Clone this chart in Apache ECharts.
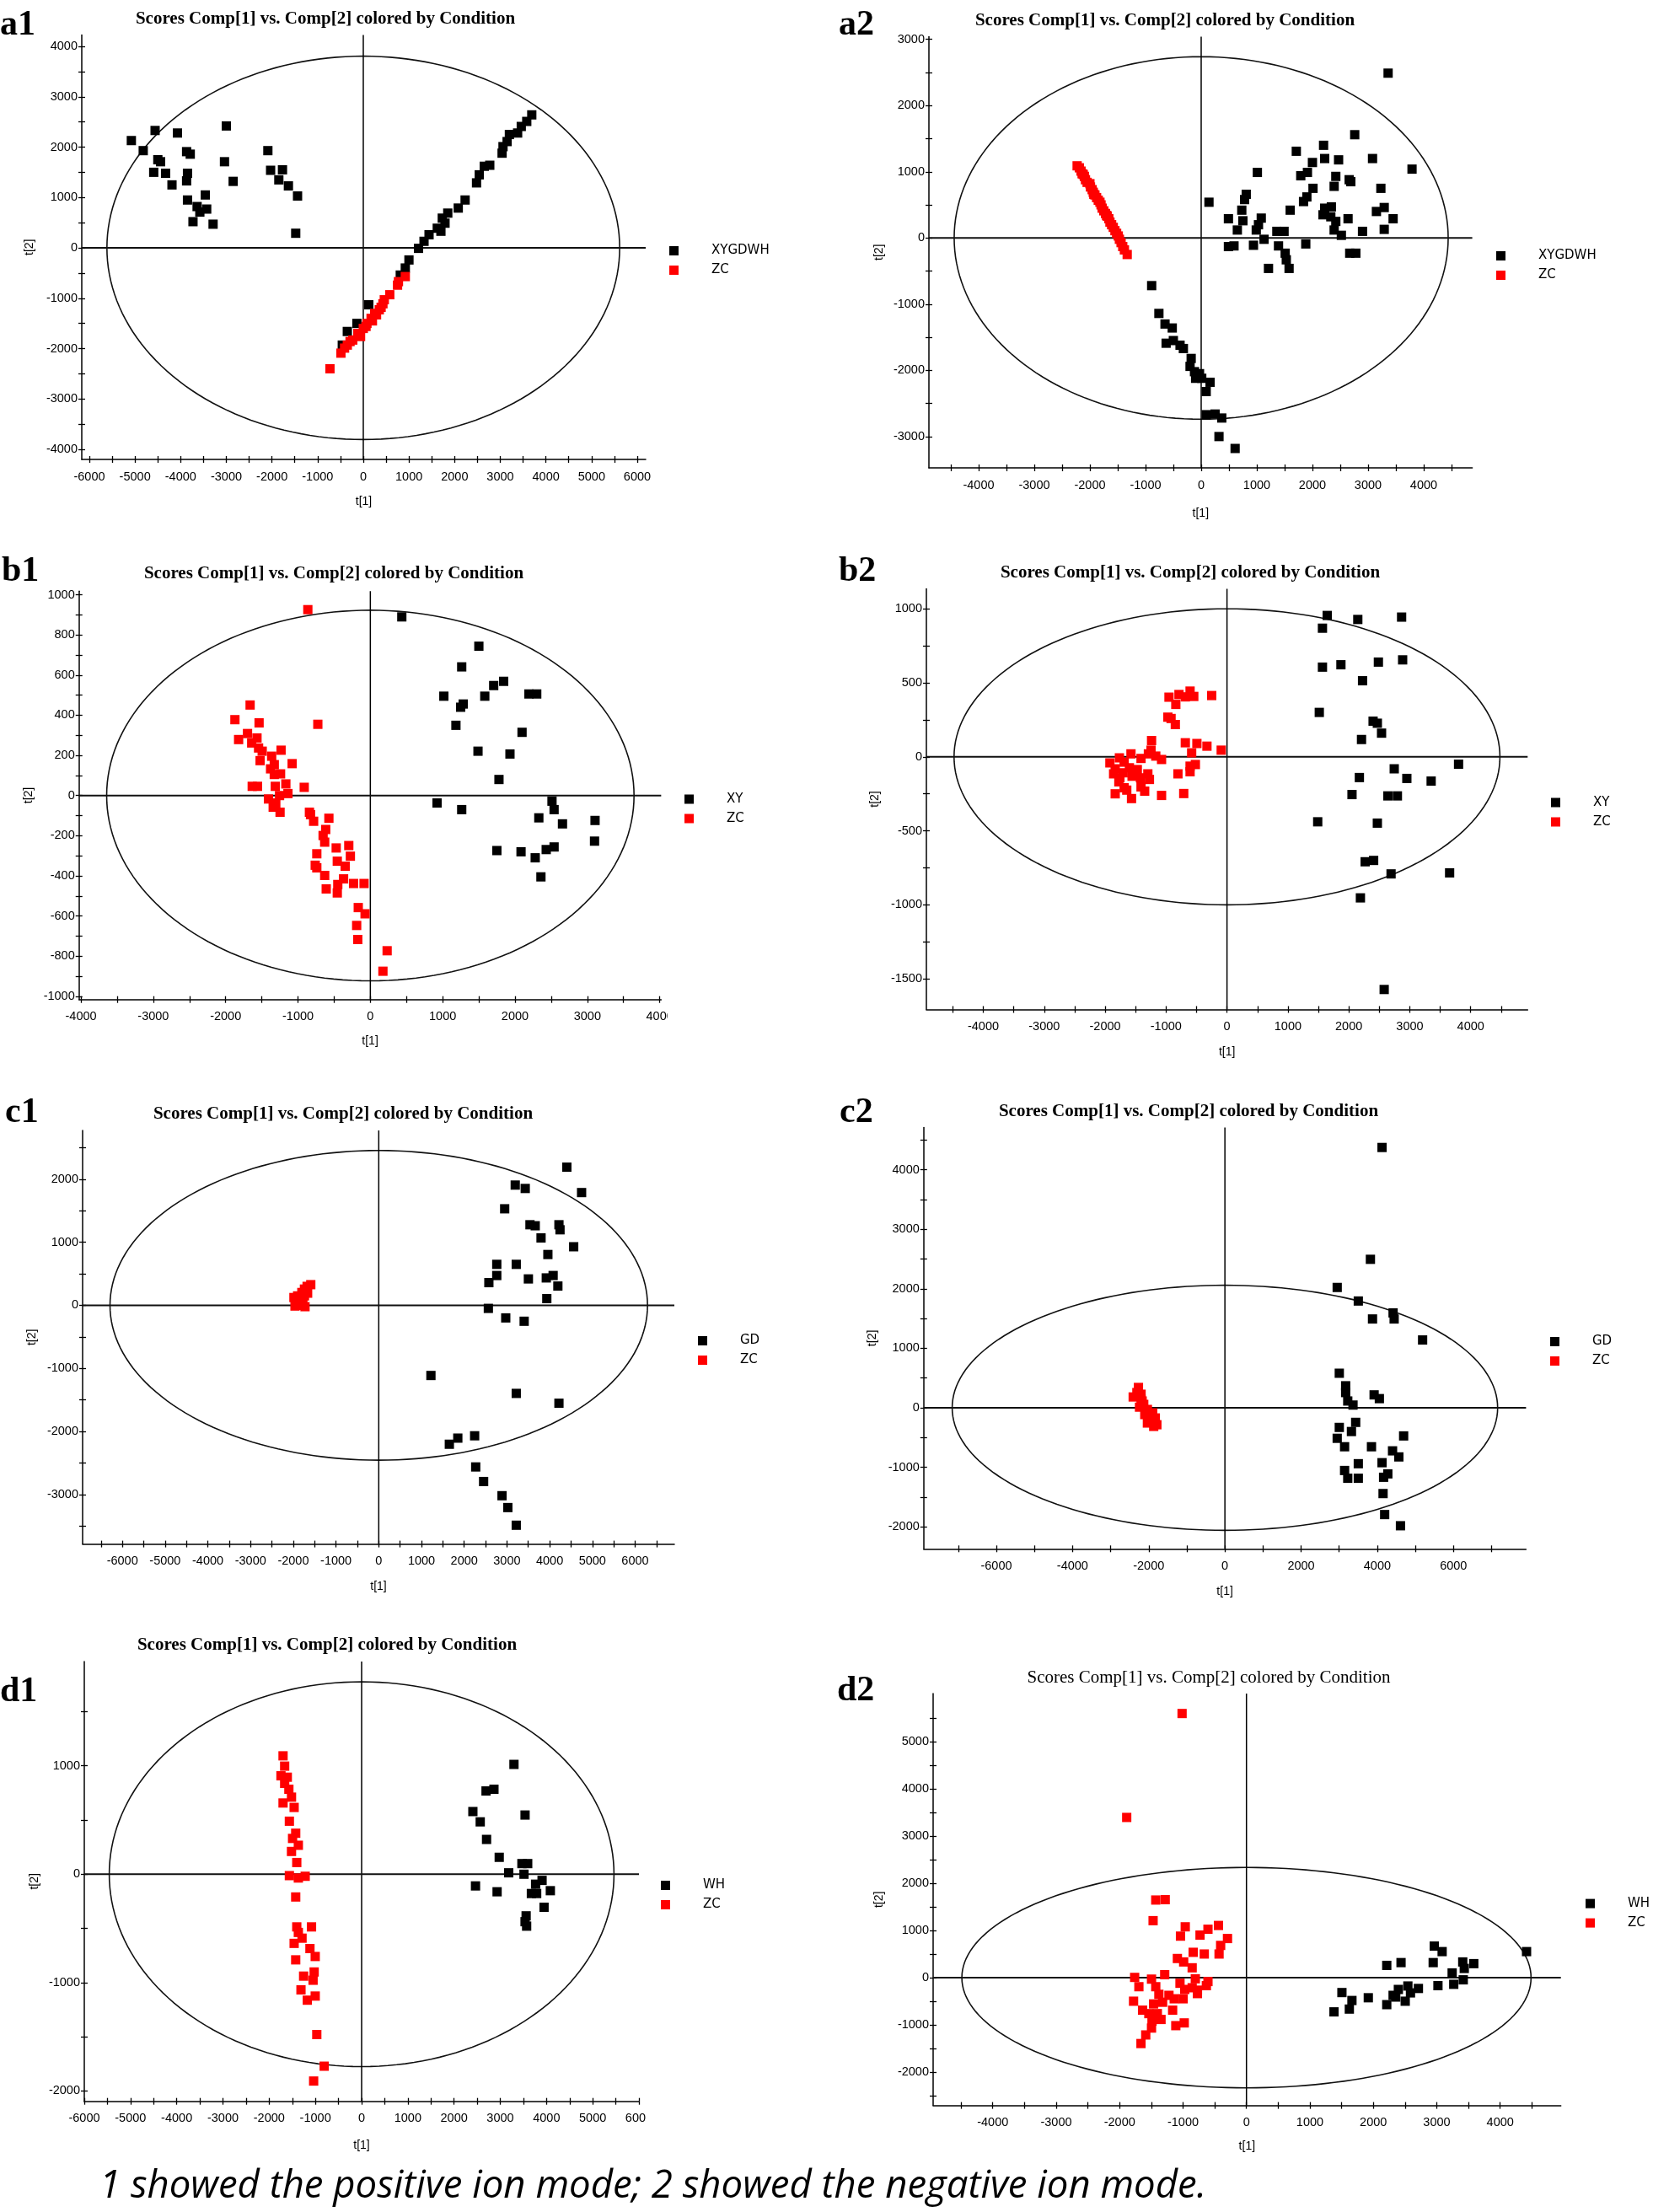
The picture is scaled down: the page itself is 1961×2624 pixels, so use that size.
<!DOCTYPE html>
<html><head><meta charset="utf-8">
<script src="https://cdn.jsdelivr.net/npm/echarts@6/dist/echarts.min.js"></script>
<style>html,body{margin:0;padding:0;background:#fff}#c{width:1961px;height:2624px}</style>
</head><body><div id="c"></div>
<script>
// ---------------- DATA ----------------
const a1_XYGDWH = [[-5080,2130],[-4820,1930],[-4560,2330],[-4500,1750],[-4440,1710],[-4590,1500],[-4330,1480],[-4190,1250],[-4070,2280],[-3870,1910],[-3790,1860],[-3850,1480],[-3870,1330],[-3850,950],[-3460,1050],[-3730,520],[-3640,820],[-3580,710],[-3430,770],[-3290,470],[-3000,2420],[-3040,1710],[-2850,1320],[-2090,1930],[-2030,1540],[-1770,1550],[-1850,1350],[-1640,1230],[-1440,1030],[-1480,290],
[3690,2640],[3580,2510],[3460,2410],[3380,2280],[3200,2250],[3150,2110],[3060,2010],[3040,1880],[2770,1640],[2650,1620],[2540,1450],[2480,1290],[2230,950],[2080,790],[1850,690],[1730,590],[1790,490],[1620,390],[1700,330],[1440,260],[1330,130],[1210,-10],[1000,-240],[920,-400],[810,-540],[120,-1130],[-140,-1500],[-350,-1660],[-460,-1930]];
const a1_ZC = [[-730,-2400],[-490,-2090],[-350,-1930],[-230,-1830],[-120,-1700],[0,-1600],[80,-1500],[170,-1400],[250,-1300],[350,-1230],[430,-1110],[460,-1030],[580,-930],[750,-740],[770,-670],[920,-570],[60,-1560],[-60,-1760],[-290,-1860],[290,-1330],[-410,-1990],[200,-1450],[390,-1180]];

const a2_XYGDWH = [[3360,2490],[2760,1560],[2200,1400],[1710,1310],[2220,1200],[2470,1180],[3080,1200],[3790,1040],[1010,990],[2000,1140],[1910,990],[1790,940],[2420,930],[2660,880],[2690,850],[3230,750],[2010,750],[2390,780],[810,660],[780,580],[1900,620],[1840,550],[140,540],[3290,460],[3150,400],[3450,290],[2220,450],[2340,470],[2190,350],[2330,320],[2420,250],[2640,290],[1600,420],[730,420],[490,290],[750,260],[1080,300],[1030,200],[650,120],[990,120],[1360,100],[1490,100],[2390,120],[2900,100],[3290,130],[2520,40],[1130,-20],[940,-110],[490,-130],[590,-120],[1390,-120],[1880,-90],[1510,-230],[1530,-330],[1580,-460],[1210,-460],[2670,-230],[2780,-230],
[-890,-720],[-760,-1140],[-650,-1300],[-520,-1360],[-630,-1590],[-500,-1550],[-380,-1620],[-320,-1670],[-180,-1820],[-200,-1940],[-120,-2020],[-100,-2120],[-30,-2050],[10,-2120],[160,-2180],[90,-2320],[90,-2670],[250,-2660],[370,-2720],[320,-3000],[610,-3180]];
const a2_ZC = [[-2230,1090],[-2190,1060],[-2160,1010],[-2140,970],[-2100,930],[-2080,880],[-2050,840],[-2000,820],[-1990,770],[-1960,730],[-1940,690],[-1910,650],[-1880,610],[-1850,570],[-1820,540],[-1800,500],[-1780,450],[-1750,410],[-1720,370],[-1690,330],[-1660,290],[-1640,240],[-1610,200],[-1580,160],[-1550,110],[-1520,70],[-1490,30],[-1470,-20],[-1440,-70],[-1410,-130],[-1380,-180],[-1330,-250],[-2120,960],[-1930,660],[-1700,340]];

const b1_XY = [[435,890],[1500,744],[1263,641],[1843,569],[1705,548],[1016,495],[1582,495],[2192,506],[2300,506],[1284,456],[1248,440],[1183,350],[2097,315],[1488,221],[1930,207],[1778,80],[922,-37],[1263,-70],[2511,-28],[2540,-70],[2329,-111],[2656,-141],[3106,-124],[3099,-227],[1749,-274],[2083,-280],[2431,-269],[2540,-256],[2279,-310],[2358,-405]];
const b1_ZC = [[-864,926],[-1662,451],[-1872,378],[-1538,362],[-726,355],[-1698,309],[-1821,279],[-1567,287],[-1640,262],[-1545,237],[-1495,221],[-1234,226],[-1364,196],[-1524,174],[-1081,159],[-1328,154],[-1379,133],[-1241,108],[-1328,105],[-1168,58],[-914,41],[-1633,46],[-1560,46],[-1314,46],[-1255,0],[-1139,10],[-1408,-17],[-1307,-37],[-1343,-58],[-1248,-83],[-842,-83],[-827,-95],[-784,-128],[-573,-113],[-617,-169],[-653,-199],[-631,-232],[-298,-249],[-472,-261],[-740,-290],[-276,-302],[-762,-347],[-740,-360],[-457,-327],[-348,-352],[-631,-398],[-370,-415],[-232,-438],[-87,-438],[-450,-443],[-610,-465],[-457,-485],[-167,-558],[-73,-589],[-189,-647],[-174,-717],[232,-773],[174,-875]];

const b2_XY = [[1645,955],[2147,928],[2866,944],[1567,869],[1567,606],[1870,622],[2485,640],[2883,655],[2225,514],[1515,300],[2398,241],[2468,227],[2537,160],[2208,117],[3801,-50],[2745,-81],[2173,-140],[2952,-146],[3351,-164],[2052,-255],[2641,-264],[2797,-264],[1489,-439],[2468,-448],[2268,-709],[2407,-700],[2693,-791],[3654,-784],[2190,-953],[2580,-1572]];
const b2_ZC = [[-606,444],[-788,421],[-952,403],[-684,405],[-545,408],[-251,414],[-840,354],[-970,268],[-918,259],[-848,218],[-1238,110],[-684,95],[-494,90],[-329,72],[-95,45],[-1247,45],[-580,27],[-1576,20],[-1290,20],[-1169,5],[-1074,-18],[-1766,-7],[-1411,-11],[-1688,-36],[-1922,-41],[-606,-63],[-519,-52],[-1835,-81],[-1602,-74],[-1472,-86],[-606,-101],[-805,-115],[-1861,-115],[-1705,-108],[-1299,-115],[-1758,-142],[-1558,-131],[-1420,-142],[-1273,-153],[-1775,-169],[-1688,-209],[-1411,-203],[-1645,-225],[-1351,-232],[-1835,-250],[-710,-248],[-1074,-261],[-1567,-282]];

const c1_GD = [[4402,2191],[3194,1907],[3428,1853],[4747,1788],[2947,1531],[3539,1278],[3662,1262],[4217,1278],[4242,1198],[3798,1069],[4562,929],[3958,806],[2762,650],[3218,650],[2762,473],[4081,473],[3921,435],[3502,419],[2577,360],[4192,306],[3933,107],[2565,-48],[2972,-199],[3403,-252],[1221,-1112],[3218,-1396],[4217,-1552],[2244,-2068],[1850,-2105],[1652,-2202],[2269,-2562],[2454,-2793],[2885,-3018],[3021,-3206],[3218,-3486]];
const c1_ZC = [[-1591,328],[-1677,301],[-1739,258],[-1800,204],[-1899,150],[-1985,124],[-1924,70],[-1776,70],[-1837,0],[-1726,-21],[-1960,-11],[-1739,150],[-1665,193]];

const c2_GD = [[4125,4376],[3820,2496],[2948,2023],[3502,1795],[4415,1595],[4443,1493],[3875,1493],[5190,1140],[3003,581],[3170,370],[3170,256],[3917,217],[4055,154],[3225,114],[3363,46],[3433,-245],[3003,-330],[3322,-399],[2948,-513],[4692,-473],[3142,-655],[3848,-655],[4401,-724],[4567,-826],[3502,-940],[4125,-923],[3142,-1054],[3225,-1185],[3502,-1185],[4277,-1111],[4166,-1168],[4152,-1442],[4194,-1795],[4609,-1983]];
const c2_ZC = [[-2270,342],[-2311,256],[-2408,182],[-2201,142],[-2131,57],[-2242,11],[-2035,-28],[-2104,-114],[-1896,-85],[-1965,-199],[-1827,-171],[-2035,-256],[-1869,-313],[-1786,-285],[-2173,114],[-2007,-142],[-2201,228]];

const d1_WH = [[3296,1013],[2692,768],[2863,784],[2407,578],[3536,546],[2566,483],[2703,321],[2977,156],[3468,98],[3593,98],[3182,13],[3513,0],[3904,-57],[2464,-108],[3764,-92],[4083,-152],[2931,-162],[3673,-178],[3787,-178],[3947,-305],[3559,-384],[3536,-438],[3570,-479]];
const d1_ZC = [[-1700,1092],[-1665,997],[-1745,908],[-1608,895],[-1665,838],[-1574,784],[-1517,711],[-1700,657],[-1460,616],[-1563,489],[-1426,378],[-1494,330],[-1369,267],[-1517,210],[-1403,108],[-1563,-13],[-1369,-35],[-1221,-19],[-1426,-210],[-1403,-486],[-1084,-486],[-1369,-537],[-1289,-590],[-1460,-638],[-1118,-686],[-1004,-759],[-1426,-790],[-1255,-940],[-1027,-902],[-1050,-978],[-1312,-1067],[-1004,-1124],[-1175,-1162],[-970,-1479],[-810,-1771],[-1038,-1908]];

const d2_WH = [[4416,552],[2961,669],[3085,552],[2212,260],[2437,319],[2944,319],[3410,333],[3584,297],[3434,195],[3243,100],[3418,-46],[3019,-170],[3268,-141],[2545,-177],[2711,-229],[2395,-250],[2586,-323],[2312,-375],[2353,-411],[1505,-316],[1921,-426],[1663,-484],[2503,-499],[2212,-572],[1622,-666],[1380,-725]];
const d2_ZC = [[-1015,5597],[-1888,3395],[-1430,1645],[-1281,1653],[-1472,1208],[-965,1077],[-441,1106],[-607,1026],[-1040,880],[-732,902],[-299,829],[-407,683],[-432,501],[-665,501],[-840,537],[-1089,406],[-990,333],[-856,209],[-1289,63],[-1763,5],[-1497,-31],[-1048,-119],[-806,-24],[-607,-82],[-632,-170],[-1696,-192],[-1430,-192],[-973,-250],[-856,-214],[-773,-265],[-1381,-353],[-1222,-375],[-773,-338],[-1139,-448],[-998,-448],[-1780,-499],[-1322,-521],[-1464,-557],[-1638,-689],[-1164,-689],[-1539,-762],[-1405,-762],[-1347,-886],[-1489,-923],[-1114,-1017],[-981,-959],[-1497,-1068],[-1588,-1214],[-1663,-1396]];

// 95% confidence ellipse semi-axes [t1, t2]
const a1_ellipse = [5615, 3805];
const a2_ellipse = [4440, 2738];
const b1_ellipse = [3645, 923];
const b2_ellipse = [4480, 1000];
const c1_ellipse = [6290, 2455];
const c2_ellipse = [7160, 2060];
const d1_ellipse = [5460, 1775];
const d2_ellipse = [4487, 2335];

// tick labels / tick marks
const a1_xLabels = [-6000,-5000,-4000,-3000,-2000,-1000,0,1000,2000,3000,4000,5000,6000];
const a1_xTicks = [-6000,-5500,-5000,-4500,-4000,-3500,-3000,-2500,-2000,-1500,-1000,-500,0,500,1000,1500,2000,2500,3000,3500,4000,4500,5000,5500,6000];
const a1_yLabels = [-4000,-3000,-2000,-1000,0,1000,2000,3000,4000];
const a1_yTicks = [-4000,-3500,-3000,-2500,-2000,-1500,-1000,-500,0,500,1000,1500,2000,2500,3000,3500,4000];

const a2_xLabels = [-4000,-3000,-2000,-1000,0,1000,2000,3000,4000];
const a2_xTicks = [-4500,-4000,-3500,-3000,-2500,-2000,-1500,-1000,-500,0,500,1000,1500,2000,2500,3000,3500,4000,4500];
const a2_yLabels = [-3000,-2000,-1000,0,1000,2000,3000];
const a2_yTicks = [-3500,-3000,-2500,-2000,-1500,-1000,-500,0,500,1000,1500,2000,2500,3000];

const b1_xLabels = [-4000,-3000,-2000,-1000,0,1000,2000,3000,4000];
const b1_xTicks = [-4000,-3500,-3000,-2500,-2000,-1500,-1000,-500,0,500,1000,1500,2000,2500,3000,3500,4000];
const b1_yLabels = [-1000,-800,-600,-400,-200,0,200,400,600,800,1000];
const b1_yTicks = [-1000,-900,-800,-700,-600,-500,-400,-300,-200,-100,0,100,200,300,400,500,600,700,800,900,1000];

const b2_xLabels = [-4000,-3000,-2000,-1000,0,1000,2000,3000,4000];
const b2_xTicks = [-4500,-4000,-3500,-3000,-2500,-2000,-1500,-1000,-500,0,500,1000,1500,2000,2500,3000,3500,4000,4500];
const b2_yLabels = [-1500,-1000,-500,0,500,1000];
const b2_yTicks = [-1500,-1250,-1000,-750,-500,-250,0,250,500,750,1000];

const c1_xLabels = [-6000,-5000,-4000,-3000,-2000,-1000,0,1000,2000,3000,4000,5000,6000];
const c1_xTicks = [-6500,-6000,-5500,-5000,-4500,-4000,-3500,-3000,-2500,-2000,-1500,-1000,-500,0,500,1000,1500,2000,2500,3000,3500,4000,4500,5000,5500,6000,6500];
const c1_yLabels = [-3000,-2000,-1000,0,1000,2000];
const c1_yTicks = [-3500,-3000,-2500,-2000,-1500,-1000,-500,0,500,1000,1500,2000,2500];

const c2_xLabels = [-6000,-4000,-2000,0,2000,4000,6000];
const c2_xTicks = [-7000,-6000,-5000,-4000,-3000,-2000,-1000,0,1000,2000,3000,4000,5000,6000,7000];
const c2_yLabels = [-2000,-1000,0,1000,2000,3000,4000];
const c2_yTicks = [-2000,-1500,-1000,-500,0,500,1000,1500,2000,2500,3000,3500,4000,4500];

const d1_xLabels = [-6000,-5000,-4000,-3000,-2000,-1000,0,1000,2000,3000,4000,5000,6000];
const d1_xTicks = [-6000,-5500,-5000,-4500,-4000,-3500,-3000,-2500,-2000,-1500,-1000,-500,0,500,1000,1500,2000,2500,3000,3500,4000,4500,5000,5500,6000];
const d1_yLabels = [-2000,-1000,0,1000];
const d1_yTicks = [-2000,-1500,-1000,-500,0,500,1000,1500];

const d2_xLabels = [-4000,-3000,-2000,-1000,0,1000,2000,3000,4000];
const d2_xTicks = [-4500,-4000,-3500,-3000,-2500,-2000,-1500,-1000,-500,0,500,1000,1500,2000,2500,3000,3500,4000,4500];
const d2_yLabels = [-2000,-1000,0,1000,2000,3000,4000,5000];
const d2_yTicks = [-2500,-2000,-1500,-1000,-500,0,500,1000,1500,2000,2500,3000,3500,4000,4500,5000,5500];

const panelTitle = 'Scores Comp[1] vs. Comp[2] colored by Condition';
const caption = '1 showed the positive ion mode; 2 showed the negative ion mode.';

// ---------------- PANELS ----------------
const panels = [
  {tag:'a1', groups:['XYGDWH','ZC'], data:[a1_XYGDWH,a1_ZC], ell:a1_ellipse, xl:a1_xLabels, xt:a1_xTicks, yl:a1_yLabels, yt:a1_yTicks,
   grid:[97,41.5,669,503.5], xr:[-6166,6185], yr:[-4200,4226], tx:386, ty:12.5, bold:true, lx:0, ly:9, leg:[794,290], xg:43, yg:55},
  {tag:'a2', groups:['XYGDWH','ZC'], data:[a2_XYGDWH,a2_ZC], ell:a2_ellipse, xl:a2_xLabels, xt:a2_xTicks, yl:a2_yLabels, yt:a2_yTicks,
   grid:[1102,43.5,644.6,511.5], xr:[-4894,4873], yr:[-3473,3041], tx:1382, ty:14, bold:true, lx:995, ly:9, leg:[1775,296], xg:47, yg:52},
  {tag:'b1', groups:['XY','ZC'], data:[b1_XY,b1_ZC], ell:b1_ellipse, xl:b1_xLabels, xt:b1_xTicks, yl:b1_yLabels, yt:b1_yTicks,
   grid:[93.75,701.3,690.6,484.4], xr:[-4027,4020], yr:[-1016,1018], tx:396, ty:670.5, bold:true, lx:2, ly:657, leg:[812,940.5], xg:42, yg:53},
  {tag:'b2', groups:['XY','ZC'], data:[b2_XY,b2_ZC], ell:b2_ellipse, xl:b2_xLabels, xt:b2_xTicks, yl:b2_yLabels, yt:b2_yTicks,
   grid:[1099,698.5,713.3,499], xr:[-4934,4935], yr:[-1707,1135], tx:1412, ty:669.5, bold:true, lx:995, ly:657, leg:[1840,944.5], xg:44, yg:54},
  {tag:'c1', groups:['GD','ZC'], data:[c1_GD,c1_ZC], ell:c1_ellipse, xl:c1_xLabels, xt:c1_xTicks, yl:c1_yLabels, yt:c1_yTicks,
   grid:[98,1341,702,490.6], xr:[-6931,6918], yr:[-3784,2773], tx:407, ty:1311, bold:true, lx:6, ly:1299, leg:[828,1583], xg:44, yg:53},
  {tag:'c2', groups:['GD','ZC'], data:[c2_GD,c2_ZC], ell:c2_ellipse, xl:c2_xLabels, xt:c2_xTicks, yl:c2_yLabels, yt:c2_yTicks,
   grid:[1095.8,1337.5,714.6,499.8], xr:[-7908,7906], yr:[-2371,4712], tx:1410, ty:1308, bold:true, lx:996, ly:1299, leg:[1839,1584], xg:44, yg:54},
  {tag:'d1', groups:['WH','ZC'], data:[d1_WH,d1_ZC], ell:d1_ellipse, xl:d1_xLabels, xt:d1_xTicks, yl:d1_yLabels, yt:d1_yTicks,
   grid:[100,1971,658,521.7], xr:[-6000,6000], yr:[-2095,1962], tx:388, ty:1941, bold:true, lx:0, ly:1986, leg:[784,2229], xg:45, yg:52},
  {tag:'d2', groups:['WH','ZC'], data:[d2_WH,d2_ZC], ell:d2_ellipse, xl:d2_xLabels, xt:d2_xTicks, yl:d2_yLabels, yt:d2_yTicks,
   grid:[1107,2009,744.7,488.6], xr:[-4940,4957], yr:[-2708,6020], tx:1434, ty:1980, bold:false, lx:993, ly:1985, leg:[1881,2250.6], xg:42, yg:57}
];
const groupColors = ['#000000', '#ff0000'];

const labelFont = 'Liberation Sans, Arial, sans-serif';
const fmt = v => String(v);

const grids = [], xAxes = [], yAxes = [], series = [], titles = [], legends = [];
panels.forEach((p, i) => {
  grids.push({left:p.grid[0], top:p.grid[1], width:p.grid[2], height:p.grid[3], containLabel:false});
  [true, false].forEach(main => {
    xAxes.push({type:'value', gridIndex:i, min:p.xr[0], max:p.xr[1], position:'bottom',
      axisLine:{show:main, onZero:false, lineStyle:{color:'#000', width:1.5}},
      axisTick:{show:true, inside:!main, length:4, customValues:p.xt, lineStyle:{color:'#000', width:1.3}},
      axisLabel:{show:main, customValues:p.xl, formatter:fmt, margin:13, color:'#000', fontFamily:labelFont, fontSize:14.5},
      splitLine:{show:false},
      name: main ? 't[1]' : '', nameLocation:'middle', nameGap:p.xg,
      nameTextStyle:{color:'#000', fontFamily:labelFont, fontSize:14}});
    yAxes.push({type:'value', gridIndex:i, min:p.yr[0], max:p.yr[1], position:'left',
      axisLine:{show:main, onZero:false, lineStyle:{color:'#000', width:1.5}},
      axisTick:{show:true, inside:!main, length:4, customValues:p.yt, lineStyle:{color:'#000', width:1.3}},
      axisLabel:{show:main, customValues:p.yl, formatter:fmt, margin:5, color:'#000', fontFamily:labelFont, fontSize:14.5},
      splitLine:{show:false},
      name: main ? 't[2]' : '', nameLocation:'middle', nameGap:p.yg,
      nameTextStyle:{color:'#000', fontFamily:labelFont, fontSize:14}});
  });
  const ax = 2*i;
  series.push({type:'custom', xAxisIndex:ax, yAxisIndex:ax, silent:true, z:1, clip:false,
    data:[[0, 0, p.ell[0], p.ell[1]]], encode:{x:0, y:1},
    renderItem:(params, api) => {
      const a = api.value(2), b = api.value(3);
      const c = api.coord([0, 0]);
      const pts = [];
      for (let k = 0; k <= 360; k += 2) {
        const t = k * Math.PI / 180;
        pts.push(api.coord([a * Math.cos(t), b * Math.sin(t)]));
      }
      const cs = params.coordSys;
      return {type:'group', children:[
        {type:'polyline', shape:{points:pts}, style:{fill:null, stroke:'#111', lineWidth:1.6}},
        {type:'line', shape:{x1:c[0], y1:cs.y, x2:c[0], y2:cs.y+cs.height}, style:{stroke:'#000', lineWidth:1.5}},
        {type:'line', shape:{x1:cs.x, y1:c[1], x2:cs.x+cs.width, y2:c[1]}, style:{stroke:'#111', lineWidth:2}}
      ]};
    }});
  p.groups.forEach((g, gi) => {
    series.push({type:'scatter', name:g, xAxisIndex:ax, yAxisIndex:ax, data:p.data[gi],
      symbol:'rect', symbolSize:11, itemStyle:{color:groupColors[gi], opacity:1}, z:3+gi, silent:true});
  });
  titles.push({text:p.tag, left:p.lx, top:p.ly, padding:0,
    textStyle:{fontFamily:'Liberation Serif, Times New Roman, serif', fontWeight:'bold', fontSize:42, color:'#000'}});
  titles.push({text:panelTitle, left:p.tx, top:p.ty, textAlign:'center', padding:0,
    textStyle:{fontFamily:'Liberation Serif, Times New Roman, serif', fontWeight:p.bold?'bold':'normal', fontSize:21, color:'#000'}});
  legends.push({left:p.leg[0], top:p.leg[1], orient:'vertical', padding:0, itemWidth:11, itemHeight:11, itemGap:8,
    icon:'rect', selectedMode:false, data:p.groups,
    textStyle:{fontFamily:'DejaVu Sans, sans-serif', fontSize:15, color:'#000', padding:[0,0,0,34]}});
});
titles.push({text:caption, left:118, top:2571, padding:0,
  textStyle:{fontFamily:'Open Sans, Lato, sans-serif', fontStyle:'italic', fontWeight:'normal', fontSize:45.5, color:'#000'}});

const chart = echarts.init(document.getElementById('c'), null, {renderer:'canvas'});
chart.setOption({
  animation:false, backgroundColor:'#ffffff',
  title:titles, legend:legends, grid:grids, xAxis:xAxes, yAxis:yAxes, series:series,
  graphic:[
    // the source panels b1 and d1 were cropped at their right edge, cutting the last x label
    {type:'rect', left:792, top:1192, shape:{width:40, height:30}, style:{fill:'#fff'}, z:100, silent:true},
    {type:'rect', left:766, top:2500, shape:{width:40, height:30}, style:{fill:'#fff'}, z:100, silent:true}
  ]
});
</script></body></html>
